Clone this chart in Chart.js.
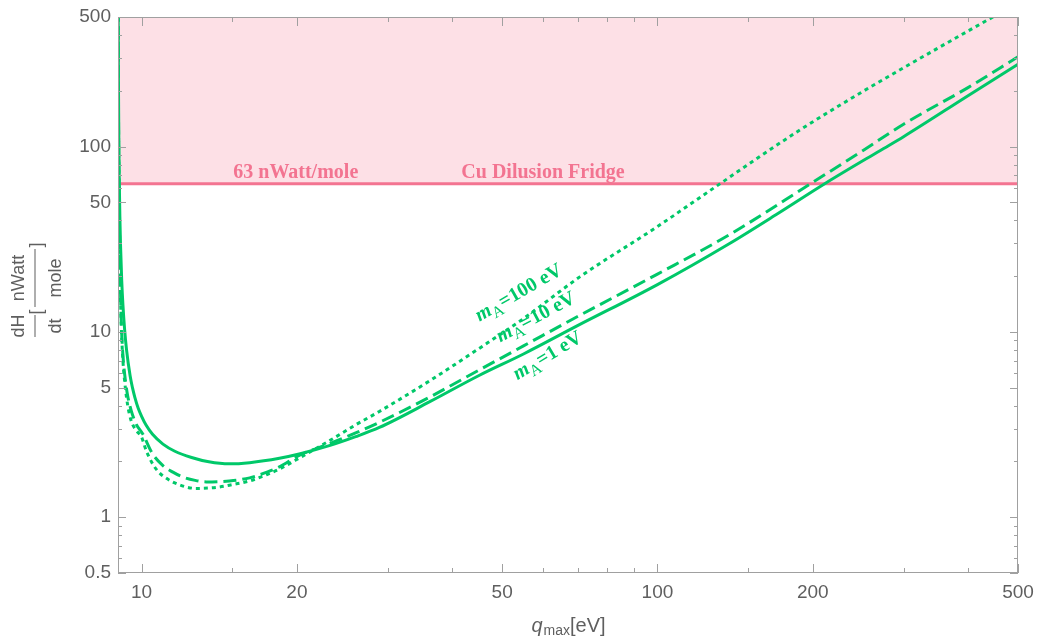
<!DOCTYPE html>
<html>
<head>
<meta charset="utf-8">
<script src="https://cdn.jsdelivr.net/npm/chart.js@4.4.1/dist/chart.umd.min.js"></script>
<style>
  html, body { margin: 0; padding: 0; background: #fff; }
  #wrap { width: 1037px; height: 640px; position: relative; }
</style>
</head>
<body>
<div id="wrap"><canvas id="chart"></canvas></div>
<script>
// q_max [eV] vs heating rate dH/dt [nWatt/mole]
const qOne = [9.005, 9.01, 9.02, 9.035, 9.05, 9.075, 9.1, 9.15, 9.2, 9.27, 9.35, 9.5, 9.6, 9.7, 9.85, 10, 10.2, 10.5, 11, 11.6, 12.5, 13.5, 14.8, 16.2, 18.5, 20.3, 23.2, 26, 28.9, 36.2, 45, 55, 70, 100, 138, 170, 211, 270, 300, 400, 500];
const rateOne = [900, 450, 200, 100, 67, 42, 30, 19, 14, 10.3, 8, 5.8, 5.0, 4.45, 3.87, 3.5, 3.14, 2.8, 2.48, 2.27, 2.1, 1.99, 1.94, 1.97, 2.08, 2.2, 2.44, 2.72, 3.05, 4.2, 5.8, 7.6, 10.8, 18, 30, 43, 63, 95, 113, 188, 278];

const qTen = [9.005, 9.01, 9.02, 9.04, 9.07, 9.1, 9.13, 9.2, 9.3, 9.4, 9.55, 9.75, 10.06, 10.5, 11, 11.5, 12, 12.7, 13.35, 14.8, 16.2, 17.5, 18.5, 20.3, 23.2, 26, 28.9, 36.2, 45, 55, 70, 100, 138, 198, 250, 300, 400, 500];
const rateTen = [900, 350, 150, 60, 30, 17, 11.5, 7.5, 5.5, 4.5, 3.75, 3.2, 2.8, 2.2, 1.9, 1.75, 1.65, 1.58, 1.55, 1.57, 1.63, 1.75, 1.87, 2.17, 2.5, 2.85, 3.25, 4.45, 6.2, 8.4, 12.1, 20.5, 33.5, 63, 95, 132, 208, 305];

const qHundred = [9.005, 9.01, 9.02, 9.04, 9.07, 9.1, 9.13, 9.2, 9.3, 9.4, 9.55, 9.75, 10, 10.2, 10.44, 10.7, 11, 11.8, 12.77, 14, 15, 16.2, 17.5, 18.5, 20.3, 23.2, 26, 28.9, 36.2, 45, 55, 70.7, 100, 130, 189, 250, 300, 400, 447, 500];
const rateHundred = [900, 330, 140, 55, 27, 16, 11, 7.0, 5.0, 4.0, 3.3, 2.95, 2.7, 2.3, 2.0, 1.8, 1.67, 1.5, 1.43, 1.45, 1.5, 1.57, 1.7, 1.82, 2.1, 2.6, 3.15, 3.72, 5.45, 8.1, 11.8, 19.8, 37, 61, 123, 198, 266, 420, 500, 595];

const fridgeLevel = 63;
const xRange = [9, 500];
const yRange = [0.5, 500];
const xMajorTicks = [10, 20, 50, 100, 200, 500];
const xMinorTicks = [15, 30, 40, 60, 70, 80, 90, 150, 300, 400];
const yMajorTicks = [0.5, 1, 5, 10, 50, 100, 500];
const yMinorTicks = [0.6, 0.7, 0.8, 0.9, 2, 3, 4, 6, 7, 8, 9, 20, 30, 40, 60, 70, 80, 90, 200, 300, 400];

const GREEN = 'rgb(0, 200, 105)';
const PINK = 'rgb(243, 116, 145)';
const PINK_FILL = 'rgb(253, 224, 230)';
const GREY = '#5f5f5f';
const FRAME = '#a0a0a0';
const SANS = '"Liberation Sans", Arial, sans-serif';
const SERIF = '"Liberation Serif", "Times New Roman", serif';

const toPoints = (xs, ys) => xs.map((x, i) => ({ x, y: ys[i] }));

function massLabel(ctx, px, py, angle, text) {
  ctx.save();
  ctx.translate(px, py);
  ctx.rotate(-angle * Math.PI / 180);
  const fm = `italic bold 20px ${SERIF}`;
  const fa = `16px ${SERIF}`;
  const fr = `bold 20px ${SERIF}`;
  ctx.font = fm; const wm = ctx.measureText('m').width;
  ctx.font = fa; const wa = ctx.measureText('A').width;
  ctx.font = fr; const wr = ctx.measureText(text).width;
  let cx = -(wm + wa + wr) / 2;
  ctx.textAlign = 'left';
  ctx.textBaseline = 'alphabetic';
  ctx.fillStyle = GREEN;
  ctx.font = fm; ctx.fillText('m', cx, 0); cx += wm;
  ctx.font = fa; ctx.fillText('A', cx, 5); cx += wa;
  ctx.font = fr; ctx.fillText(text, cx, 0);
  ctx.restore();
}

const decorations = {
  id: 'decorations',
  afterDatasetsDraw(chart) {
    const { ctx, chartArea: a, scales: { x, y } } = chart;
    ctx.save();

    // frame with inward ticks on all four sides
    ctx.strokeStyle = FRAME;
    ctx.lineWidth = 1;
    ctx.strokeRect(a.left + 0.5, a.top + 0.5, a.right - a.left - 1, a.bottom - a.top - 1);
    const seg = (x0, y0, x1, y1) => { ctx.beginPath(); ctx.moveTo(x0, y0); ctx.lineTo(x1, y1); ctx.stroke(); };
    const xt = (vals, len) => vals.forEach(v => {
      const p = Math.round(x.getPixelForValue(v)) + 0.5;
      seg(p, a.bottom, p, a.bottom - len);
      seg(p, a.top, p, a.top + len);
    });
    const yt = (vals, len) => vals.forEach(v => {
      const p = Math.round(y.getPixelForValue(v)) + 0.5;
      seg(a.left, p, a.left + len, p);
      seg(a.right, p, a.right - len, p);
    });
    xt(xMajorTicks, 9); xt(xMinorTicks, 5);
    yt(yMajorTicks, 8); yt(yMinorTicks, 4);

    // fridge annotation
    ctx.fillStyle = PINK;
    ctx.font = `bold 20px ${SERIF}`;
    ctx.textAlign = 'center';
    ctx.textBaseline = 'alphabetic';
    const ly = y.getPixelForValue(fridgeLevel) - 6;
    ctx.fillText('63 nWatt/mole', x.getPixelForValue(19.9), ly);
    ctx.fillText('Cu Dilusion Fridge', x.getPixelForValue(60), ly);

    // curve labels
    massLabel(ctx, x.getPixelForValue(54.5), y.getPixelForValue(15.3), 30, '=100 eV');
    massLabel(ctx, x.getPixelForValue(58.8), y.getPixelForValue(11.3), 28, '=10 eV');
    massLabel(ctx, x.getPixelForValue(62), y.getPixelForValue(7.0), 31, '=1 eV');

    // x axis title: q_max[eV]
    ctx.fillStyle = GREY;
    ctx.textAlign = 'left';
    const big = `20px ${SANS}`, small = `14px ${SANS}`;
    ctx.font = `italic ${big}`; const wq = ctx.measureText('q').width;
    ctx.font = small; const wmx = ctx.measureText('max').width;
    ctx.font = big; const we = ctx.measureText('[eV]').width;
    let tx = (a.left + a.right) / 2 - (wq + wmx + we) / 2;
    const ty = 632;
    ctx.font = `italic ${big}`; ctx.fillText('q', tx, ty); tx += wq + 1;
    ctx.font = small; ctx.fillText('max', tx, ty + 3); tx += wmx;
    ctx.font = big; ctx.fillText('[eV]', tx, ty);

    // y axis title: dH/dt [nWatt/mole], rotated
    ctx.save();
    ctx.translate(35, 337);
    ctx.rotate(-Math.PI / 2);
    ctx.font = `18px ${SANS}`;
    ctx.textAlign = 'center';
    ctx.fillRect(0, -0.5, 22, 1);
    ctx.fillText('dH', 11, -11);
    ctx.textBaseline = 'top';
    ctx.fillText('dt', 11, 12);
    ctx.textBaseline = 'middle';
    ctx.fillText('[', 25, 2);
    ctx.fillRect(30, -0.5, 58, 1);
    ctx.textBaseline = 'alphabetic';
    ctx.fillText('nWatt', 59, -11);
    ctx.textBaseline = 'top';
    ctx.fillText('mole', 59, 12);
    ctx.textBaseline = 'middle';
    ctx.fillText(']', 92, 2);
    ctx.restore();

    ctx.restore();
  }
};

const lineStyle = { borderColor: GREEN, borderWidth: 3, pointRadius: 0, fill: false, cubicInterpolationMode: 'monotone' };

new Chart(document.getElementById('chart').getContext('2d'), {
  type: 'line',
  data: {
    datasets: [
      { label: 'mA=1 eV', data: toPoints(qOne, rateOne), ...lineStyle, order: 1 },
      { label: 'mA=10 eV', data: toPoints(qTen, rateTen), ...lineStyle, borderDash: [13, 6], order: 2 },
      { label: 'mA=100 eV', data: toPoints(qHundred, rateHundred), ...lineStyle, borderDash: [4, 4], order: 3 },
      {
        label: 'Cu Dilusion Fridge',
        data: toPoints(xRange, [fridgeLevel, fridgeLevel]),
        borderColor: PINK, borderWidth: 3, pointRadius: 0,
        fill: 'end', backgroundColor: PINK_FILL, order: 10
      }
    ]
  },
  options: {
    responsive: true,
    maintainAspectRatio: false,
    animation: false,
    layout: { padding: { top: 17, right: 19, left: 0, bottom: 0 } },
    plugins: { legend: { display: false }, tooltip: { enabled: false } },
    scales: {
      x: {
        type: 'logarithmic',
        min: xRange[0], max: xRange[1],
        grid: { display: false, drawTicks: false },
        border: { display: false },
        afterBuildTicks: s => { s.ticks = xMajorTicks.map(v => ({ value: v })); },
        afterFit: s => { s.height = 67; s.paddingLeft = 0; s.paddingRight = 0; },
        ticks: {
          autoSkip: false, maxRotation: 0, padding: 8,
          color: GREY, font: { family: SANS, size: 19 },
          callback: v => String(v)
        }
      },
      y: {
        type: 'logarithmic',
        min: yRange[0], max: yRange[1],
        grid: { display: false, drawTicks: false },
        border: { display: false },
        afterBuildTicks: s => { s.ticks = yMajorTicks.map(v => ({ value: v })); },
        afterFit: s => { s.width = 118; s.paddingTop = 0; s.paddingBottom = 0; },
        ticks: {
          autoSkip: false, padding: 7,
          color: GREY, font: { family: SANS, size: 19 },
          callback: v => String(v)
        }
      }
    }
  },
  plugins: [decorations]
});
</script>
</body>
</html>
